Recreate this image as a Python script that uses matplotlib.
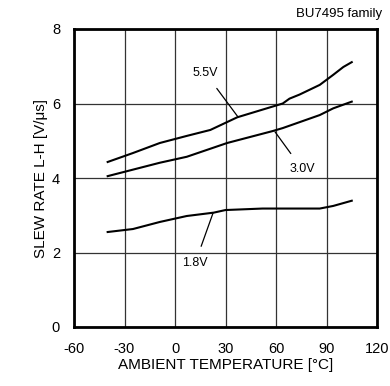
import numpy as np
import matplotlib.pyplot as plt

plt.rcParams['font.family'] = ['Liberation Sans', 'DejaVu Sans']
plt.rcParams['axes.unicode_minus'] = False

# valeurs
temp_55 = [-40, -25, -9, 7, 21, 37, 64, 68, 74, 86, 94, 100, 105]
sr_55 = [4.43, 4.67, 4.94, 5.13, 5.29, 5.63, 6.0, 6.13, 6.24, 6.5, 6.77, 6.98, 7.11]

temp_30 = [-40, -9, 7, 31, 58, 64, 86, 94, 105]
sr_30 = [4.05, 4.41, 4.57, 4.94, 5.26, 5.34, 5.69, 5.87, 6.05]

temp_18 = [-40, -25, -9, 7, 23, 30, 52, 86, 94, 105]
sr_18 = [2.55, 2.63, 2.82, 2.98, 3.07, 3.14, 3.18, 3.18, 3.25, 3.39]

xticks = [-60, -30, 0, 30, 60, 90, 120]
yticks = [0, 2, 4, 6, 8]

fig = plt.figure(figsize=(3.9, 3.86), dpi=100)
ax = fig.add_axes([74/390, 1-327/386, 303/390, 298/386])

ax.plot(temp_55, sr_55, color='black', lw=1.5)
ax.plot(temp_30, sr_30, color='black', lw=1.5)
ax.plot(temp_18, sr_18, color='black', lw=1.5)

ax.set_xlim(-60, 120)
ax.set_ylim(0, 8)
ax.set_xticks(xticks)
ax.set_yticks(yticks)
ax.tick_params(axis='x', length=0, labelsize=10.5, pad=11)
ax.tick_params(axis='y', length=0, labelsize=10.5, pad=10)
ax.grid(True, color='#333333', lw=0.9)
for s in ax.spines.values():
    s.set_linewidth(2)

ax.set_xlabel('AMBIENT TEMPERATURE [\u00b0C]', fontsize=11, labelpad=1)
ax.set_ylabel('SLEW RATE L-H [V/\u03bcs]', fontsize=11, labelpad=3)

# annotations
ax.annotate('5.5V', xy=(37.4, 5.64), xytext=(18, 6.82), fontsize=9,
            ha='center', va='center',
            arrowprops=dict(arrowstyle='-', color='black', lw=0.9, shrinkA=6, shrinkB=0))
ax.annotate('3.0V', xy=(59.4, 5.24), xytext=(75.5, 4.24), fontsize=9,
            ha='center', va='center',
            arrowprops=dict(arrowstyle='-', color='black', lw=0.9, shrinkA=6, shrinkB=0))
ax.annotate('1.8V', xy=(22.6, 3.06), xytext=(12, 1.72), fontsize=9,
            ha='center', va='center',
            arrowprops=dict(arrowstyle='-', color='black', lw=0.9, shrinkA=6, shrinkB=0))

fig.text(382/390, 1-14/386, 'BU7495 family', fontsize=9.5, ha='right', va='center')

fig.savefig('out.png', dpi=100)
